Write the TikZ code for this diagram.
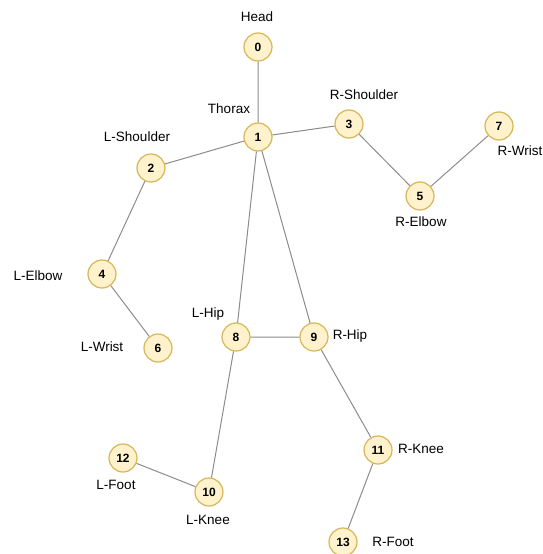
\documentclass[tikz,border=0pt]{standalone}
\usepackage{fontspec}
\setmainfont{Liberation Sans}
\usepackage{xcolor}
\definecolor{jointfill}{HTML}{FFF2CC}
\definecolor{jointline}{HTML}{D6B656}
\definecolor{bone}{HTML}{8C8C8C}

\begin{document}
\begin{tikzpicture}[x=1pt,y=-1pt,
    joint/.style={circle,fill=jointfill,draw=jointline,line width=1.2pt,minimum size=28pt,inner sep=0pt,font=\fontsize{12}{13}\selectfont\bfseries},
    lbl/.style={font=\fontsize{13.5}{15}\selectfont,inner sep=0pt}]
            		\useasboundingbox (0,0) rectangle (542,554);

            		\node (j0) at (258,47) [joint] {0};
            		\node (j1) at (258,137) [joint] {1};
            		\node (j2) at (151,168) [joint] {2};
            		\node (j3) at (349,124) [joint] {3};
            		\node (j4) at (102,274) [joint] {4};
            		\node (j5) at (420,196) [joint] {5};
            		\node (j6) at (158,348) [joint] {6};
            		\node (j7) at (499,126) [joint] {7};
            		\node (j8) at (236,337) [joint] {8};
            		\node (j9) at (314,337) [joint] {9};
            		\node (j10) at (209,492) [joint] {10};
            		\node (j11) at (378,450) [joint] {11};
            		\node (j12) at (123,458) [joint] {12};
            		\node (j13) at (343,542) [joint] {13};

            		\node (head) at (257,17) [lbl] {Head};
            		\node (thorax) at (229,109) [lbl] {Thorax};
            		\node (rsh) at (364,95) [lbl] {R-Shoulder};
            		\node (lsh) at (137,137) [lbl] {L-Shoulder};
            		\node (rwr) at (520,151) [lbl] {R-Wrist};
            		\node (rel) at (421,222) [lbl] {R-Elbow};
            		\node (lel) at (38,276) [lbl] {L-Elbow};
            		\node (lwr) at (102,347) [lbl] {L-Wrist};
            		\node (lhip) at (208,314) [lbl] {L-Hip};
            		\node (rhip) at (350,336) [lbl] {R-Hip};
            		\node (rkn) at (421,449) [lbl] {R-Knee};
            		\node (lft) at (116,485) [lbl] {L-Foot};
            		\node (lkn) at (208,520) [lbl] {L-Knee};
            		\node (rft) at (393,542) [lbl] {R-Foot};

            		\draw [bone,line width=1pt] (j0) -- (j1) (j1) -- (j2) (j1) -- (j3) (j2) -- (j4) (j4) -- (j6)
            		      (j3) -- (j5) (j5) -- (j7) (j1) -- (j8) (j1) -- (j9) (j8) -- (j9)
            		      (j8) -- (j10) (j10) -- (j12) (j9) -- (j11) (j11) -- (j13);

        		\end{tikzpicture}
\end{document}
